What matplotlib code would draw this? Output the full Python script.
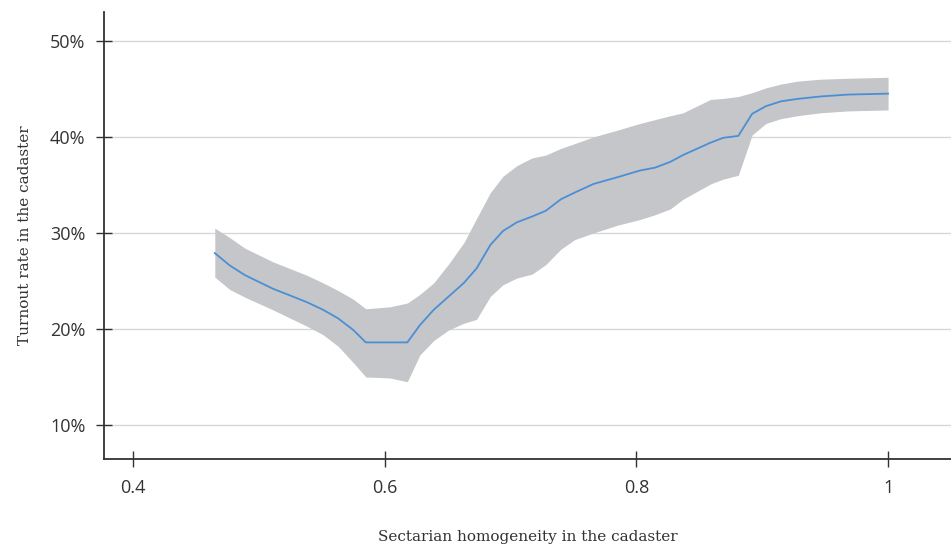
import matplotlib
matplotlib.use('Agg')
import matplotlib.pyplot as plt
from matplotlib.ticker import FuncFormatter

# sectarian homogeneity (x) and turnout (%), with confidence band
homogeneity = [0.465, 0.477, 0.489, 0.511, 0.538, 0.551, 0.563, 0.575, 0.585, 0.604,
               0.618, 0.628, 0.639, 0.651, 0.663, 0.673, 0.684, 0.694, 0.705, 0.717,
               0.728, 0.740, 0.751, 0.766, 0.785, 0.803, 0.815, 0.827, 0.837, 0.859,
               0.869, 0.881, 0.892, 0.903, 0.915, 0.928, 0.946, 0.968, 1.0]
turnout = [27.9, 26.6, 25.6, 24.2, 22.8, 22.0, 21.1, 19.9, 18.6, 18.6,
           18.6, 20.4, 22.0, 23.4, 24.8, 26.3, 28.75, 30.2, 31.1, 31.7,
           32.3, 33.5, 34.2, 35.1, 35.8, 36.5, 36.8, 37.4, 38.1, 39.4,
           39.9, 40.1, 42.4, 43.2, 43.7, 43.95, 44.2, 44.4, 44.5]
upper = [30.5, 29.5, 28.4, 27.0, 25.6, 24.8, 24.0, 23.1, 22.1, 22.3,
         22.7, 23.6, 24.8, 26.8, 29.0, 31.5, 34.2, 35.9, 37.0, 37.8,
         38.1, 38.8, 39.3, 40.0, 40.7, 41.4, 41.8, 42.2, 42.5, 43.9,
         44.0, 44.2, 44.6, 45.1, 45.5, 45.8, 46.0, 46.1, 46.2]
lower = [25.4, 24.1, 23.3, 22.0, 20.3, 19.4, 18.2, 16.5, 15.0, 14.9,
         14.5, 17.3, 18.8, 19.9, 20.6, 21.0, 23.4, 24.6, 25.3, 25.7,
         26.7, 28.3, 29.3, 30.0, 30.8, 31.4, 31.9, 32.5, 33.5, 35.1,
         35.6, 36.0, 40.2, 41.4, 41.9, 42.2, 42.5, 42.7, 42.8]

x_ticks = [0.4, 0.6, 0.8, 1.0]
x_tick_labels = ['0.4', '0.6', '0.8', '1']
y_ticks = [10, 20, 30, 40, 50]

fig = plt.figure(figsize=(9.51, 5.45), dpi=100)
ax = fig.add_axes([0.1094, 0.1578, 0.8906, 0.8202])

ax.fill_between(homogeneity, lower, upper, color='#c5c6c9', linewidth=0, zorder=2)
ax.plot(homogeneity, turnout, color='#4a8fd6', linewidth=1.3, zorder=3)

ax.set_xlim(0.377, 1.05)
ax.set_ylim(6.46, 53.0)
ax.set_xticks(x_ticks)
ax.set_xticklabels(x_tick_labels)
ax.set_yticks(y_ticks)
ax.yaxis.set_major_formatter(FuncFormatter(lambda v, p: f'{int(v)}%'))

ax.grid(axis='y', color='#d8d8d8', linewidth=1, zorder=1)
ax.set_axisbelow(True)
for s in ['top', 'right']:
  ax.spines[s].set_visible(False)
for s in ['left', 'bottom']:
  ax.spines[s].set_color('#333333')
  ax.spines[s].set_linewidth(1.3)

ax.tick_params(axis='both', direction='inout', length=11, width=1, color='#333333',
               labelsize=13, labelcolor='#333333')
ax.tick_params(axis='y', pad=8)
ax.tick_params(axis='x', pad=9)
for lbl in ax.get_xticklabels() + ax.get_yticklabels():
  lbl.set_family('Open Sans')

ax.set_xlabel('Sectarian homogeneity in the cadaster', family='DejaVu Serif',
              fontsize=11, color='#333333', labelpad=24)
ax.set_ylabel('Turnout rate in the cadaster', family='DejaVu Serif',
              fontsize=11, color='#333333', labelpad=13)

fig.savefig('out.png', dpi=100)
